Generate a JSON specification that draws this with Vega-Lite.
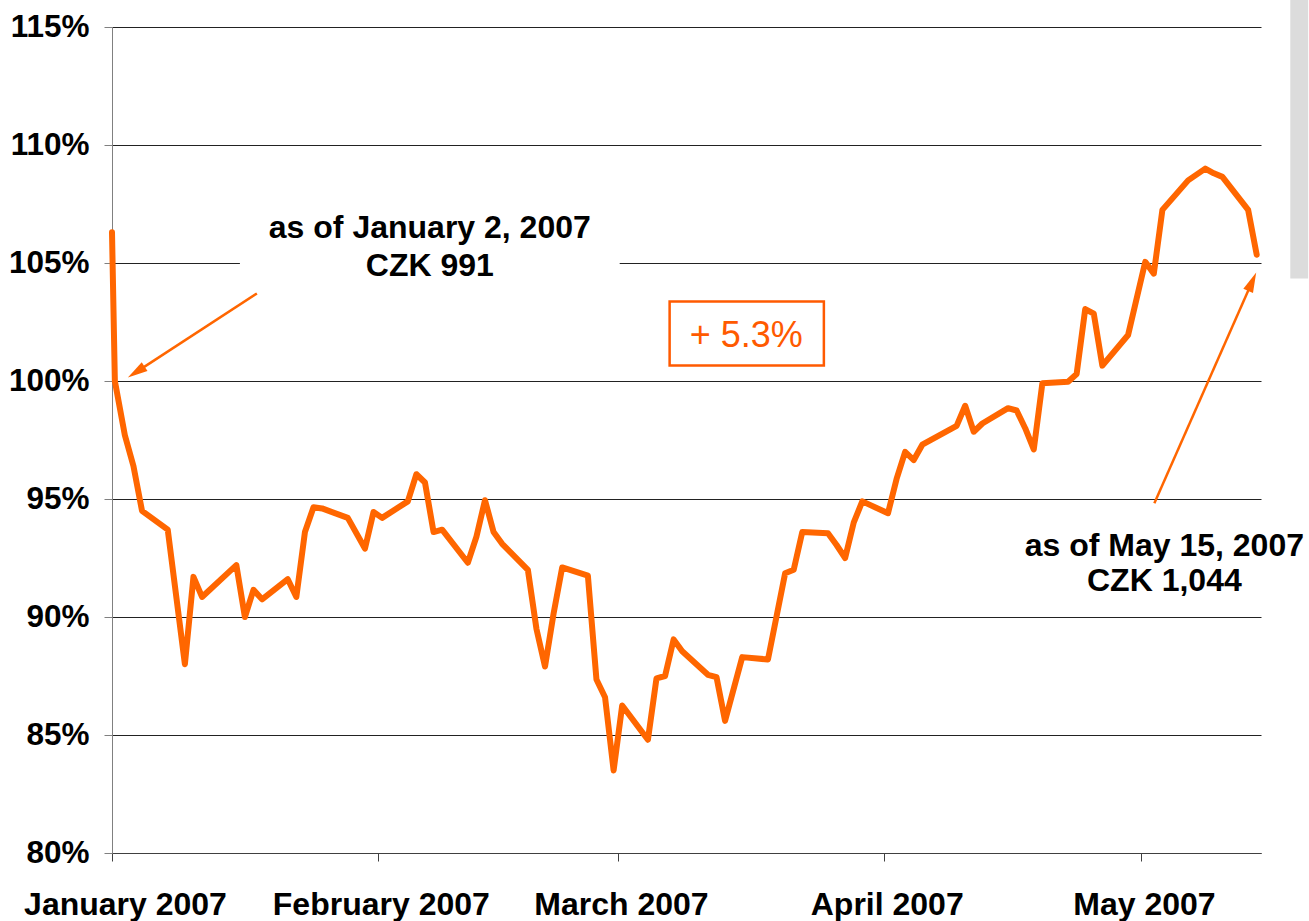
{
  "$schema": "https://vega.github.io/schema/vega-lite/v6.json",
  "width": 1149,
  "height": 826,
  "autosize": {"type": "none"},
  "padding": {"left": 112, "top": 27, "right": 48, "bottom": 68},
  "background": "white",
  "config": {"font": "Liberation Sans", "view": {"stroke": null}},
  "datasets": {
    "series": [
      {"date": "2007-01-01T00:00:00Z", "value": 106.3},
      {"date": "2007-01-01T08:00:00Z", "value": 100.0},
      {"date": "2007-01-02T12:00:00Z", "value": 97.7},
      {"date": "2007-01-03T12:00:00Z", "value": 96.4},
      {"date": "2007-01-04T12:00:00Z", "value": 94.5},
      {"date": "2007-01-07T12:00:00Z", "value": 93.7},
      {"date": "2007-01-09T12:00:00Z", "value": 88.0},
      {"date": "2007-01-10T12:00:00Z", "value": 91.7},
      {"date": "2007-01-11T12:00:00Z", "value": 90.85},
      {"date": "2007-01-15T12:00:00Z", "value": 92.2},
      {"date": "2007-01-16T12:00:00Z", "value": 90.0},
      {"date": "2007-01-17T12:00:00Z", "value": 91.15},
      {"date": "2007-01-18T12:00:00Z", "value": 90.75},
      {"date": "2007-01-21T12:00:00Z", "value": 91.6},
      {"date": "2007-01-22T12:00:00Z", "value": 90.85},
      {"date": "2007-01-23T12:00:00Z", "value": 93.6},
      {"date": "2007-01-24T12:00:00Z", "value": 94.65},
      {"date": "2007-01-25T12:00:00Z", "value": 94.6},
      {"date": "2007-01-28T12:00:00Z", "value": 94.2},
      {"date": "2007-01-30T12:00:00Z", "value": 92.9},
      {"date": "2007-01-31T12:00:00Z", "value": 94.45},
      {"date": "2007-02-01T12:00:00Z", "value": 94.2},
      {"date": "2007-02-04T12:00:00Z", "value": 94.9},
      {"date": "2007-02-05T12:00:00Z", "value": 96.05},
      {"date": "2007-02-06T12:00:00Z", "value": 95.7},
      {"date": "2007-02-07T12:00:00Z", "value": 93.6},
      {"date": "2007-02-08T12:00:00Z", "value": 93.7},
      {"date": "2007-02-11T12:00:00Z", "value": 92.3},
      {"date": "2007-02-12T12:00:00Z", "value": 93.4},
      {"date": "2007-02-13T12:00:00Z", "value": 94.95},
      {"date": "2007-02-14T12:00:00Z", "value": 93.6},
      {"date": "2007-02-15T12:00:00Z", "value": 93.1},
      {"date": "2007-02-18T12:00:00Z", "value": 92.0},
      {"date": "2007-02-19T12:00:00Z", "value": 89.5},
      {"date": "2007-02-20T12:00:00Z", "value": 87.9},
      {"date": "2007-02-21T12:00:00Z", "value": 90.15},
      {"date": "2007-02-22T12:00:00Z", "value": 92.1},
      {"date": "2007-02-25T12:00:00Z", "value": 91.75},
      {"date": "2007-02-26T12:00:00Z", "value": 87.35},
      {"date": "2007-02-27T12:00:00Z", "value": 86.6},
      {"date": "2007-02-28T12:00:00Z", "value": 83.5},
      {"date": "2007-03-01T12:00:00Z", "value": 86.25},
      {"date": "2007-03-04T12:00:00Z", "value": 84.8},
      {"date": "2007-03-05T12:00:00Z", "value": 87.4},
      {"date": "2007-03-06T12:00:00Z", "value": 87.5},
      {"date": "2007-03-07T12:00:00Z", "value": 89.05},
      {"date": "2007-03-08T12:00:00Z", "value": 88.55},
      {"date": "2007-03-11T12:00:00Z", "value": 87.55},
      {"date": "2007-03-12T12:00:00Z", "value": 87.45},
      {"date": "2007-03-13T12:00:00Z", "value": 85.6},
      {"date": "2007-03-15T12:00:00Z", "value": 88.3},
      {"date": "2007-03-18T12:00:00Z", "value": 88.2},
      {"date": "2007-03-20T12:00:00Z", "value": 91.85},
      {"date": "2007-03-21T12:00:00Z", "value": 92.0},
      {"date": "2007-03-22T12:00:00Z", "value": 93.6},
      {"date": "2007-03-25T12:00:00Z", "value": 93.55},
      {"date": "2007-03-26T12:00:00Z", "value": 93.05},
      {"date": "2007-03-27T12:00:00Z", "value": 92.5},
      {"date": "2007-03-28T12:00:00Z", "value": 94.0},
      {"date": "2007-03-29T12:00:00Z", "value": 94.9},
      {"date": "2007-04-01T12:00:00Z", "value": 94.4},
      {"date": "2007-04-02T12:00:00Z", "value": 95.85},
      {"date": "2007-04-03T12:00:00Z", "value": 97.0},
      {"date": "2007-04-04T12:00:00Z", "value": 96.65},
      {"date": "2007-04-05T12:00:00Z", "value": 97.3},
      {"date": "2007-04-09T12:00:00Z", "value": 98.1},
      {"date": "2007-04-10T12:00:00Z", "value": 98.95},
      {"date": "2007-04-11T12:00:00Z", "value": 97.85},
      {"date": "2007-04-12T12:00:00Z", "value": 98.2},
      {"date": "2007-04-15T12:00:00Z", "value": 98.85},
      {"date": "2007-04-16T12:00:00Z", "value": 98.75},
      {"date": "2007-04-17T12:00:00Z", "value": 98.0},
      {"date": "2007-04-18T12:00:00Z", "value": 97.1},
      {"date": "2007-04-19T12:00:00Z", "value": 99.9},
      {"date": "2007-04-22T12:00:00Z", "value": 99.97},
      {"date": "2007-04-23T12:00:00Z", "value": 100.3},
      {"date": "2007-04-24T12:00:00Z", "value": 103.05},
      {"date": "2007-04-25T12:00:00Z", "value": 102.85},
      {"date": "2007-04-26T12:00:00Z", "value": 100.65},
      {"date": "2007-04-29T12:00:00Z", "value": 101.95},
      {"date": "2007-05-01T12:00:00Z", "value": 105.05},
      {"date": "2007-05-02T12:00:00Z", "value": 104.55},
      {"date": "2007-05-03T12:00:00Z", "value": 107.25},
      {"date": "2007-05-06T12:00:00Z", "value": 108.5},
      {"date": "2007-05-08T12:00:00Z", "value": 109.0},
      {"date": "2007-05-09T12:00:00Z", "value": 108.8},
      {"date": "2007-05-10T12:00:00Z", "value": 108.65},
      {"date": "2007-05-13T12:00:00Z", "value": 107.25},
      {"date": "2007-05-14T12:00:00Z", "value": 105.35}
    ],
    "labelBackground": [
      {"date": "2007-01-15T22:00:00Z", "date2": "2007-03-01T05:00:00Z", "value": 104.0, "value2": 107.5}
    ],
    "sideBlock": [
      {"date": "2007-05-18T10:00:00Z", "date2": "2007-05-20T12:00:00Z", "value": 104.34, "value2": 116.3}
    ],
    "changeBox": [
      {"date": "2007-03-07T00:45:00Z", "date2": "2007-03-25T00:30:00Z", "value": 100.66, "value2": 103.37}
    ],
    "changeText": [
      {"date": "2007-03-15T23:20:00Z", "value": 101.42, "label": "+ 5.3%"}
    ],
    "notes": [
      {"date": "2007-02-07T01:30:00Z", "value": 106.07, "label": "as of January 2, 2007"},
      {"date": "2007-02-07T01:30:00Z", "value": 104.44, "label": "CZK 991"},
      {"date": "2007-05-03T17:30:00Z", "value": 92.58, "label": "as of May 15, 2007"},
      {"date": "2007-05-03T17:30:00Z", "value": 91.1, "label": "CZK 1,044"}
    ],
    "arrows": [
      {"arrow": "start", "date": "2007-01-17T21:36:00Z", "value": 103.71, "date2": "2007-01-04T00:00:00Z", "value2": 100.42},
      {"arrow": "end", "date": "2007-05-02T13:30:00Z", "value": 94.82, "date2": "2007-05-13T21:20:00Z", "value2": 104.14}
    ]
  },
  "layer": [
    {
      "data": {"name": "series"},
      "mark": {"type": "line", "color": "#FF6600", "strokeWidth": 6, "strokeJoin": "round", "strokeCap": "round"},
      "encoding": {
        "x": {
          "field": "date",
          "type": "temporal",
          "scale": {
            "type": "utc",
            "domain": [
              {"year": 2007, "month": 1, "date": 1, "utc": true},
              {"year": 2007, "month": 5, "date": 15, "utc": true}
            ]
          },
          "axis": {
            "title": null,
            "grid": false,
            "values": [
              {"year": 2007, "month": 1, "date": 1, "utc": true},
              {"year": 2007, "month": 2, "date": 1, "utc": true},
              {"year": 2007, "month": 3, "date": 1, "utc": true},
              {"year": 2007, "month": 4, "date": 1, "utc": true},
              {"year": 2007, "month": 5, "date": 1, "utc": true}
            ],
            "labelExpr": "utcFormat(datum.value, '%B %Y')",
            "labelFont": "Liberation Sans",
            "labelFontSize": 32,
            "labelFontWeight": "bold",
            "labelColor": "black",
            "labelPadding": 28,
            "labelOverlap": false,
            "labelBound": false,
            "labelFlush": false,
            "labelLimit": 0,
            "labelOffset": {"expr": "datum.index === 0 ? 13 : 3"},
            "tickSize": 8,
            "tickColor": "#404040",
            "domainColor": "#404040",
            "domainWidth": 1
          }
        },
        "y": {
          "field": "value",
          "type": "quantitative",
          "scale": {"domain": [80, 115], "nice": false, "zero": false},
          "axis": {
            "title": null,
            "values": [80, 85, 90, 95, 100, 105, 110, 115],
            "labelExpr": "datum.value + '%'",
            "labelFont": "Liberation Sans",
            "labelFontSize": 31.5,
            "labelFontWeight": "bold",
            "labelColor": "black",
            "labelPadding": 15,
            "labelLimit": 0,
            "tickSize": 8,
            "tickColor": "#808080",
            "domainColor": "#808080",
            "grid": true,
            "gridColor": "#222222",
            "gridWidth": 1
          }
        }
      }
    },
    {
      "data": {"name": "labelBackground"},
      "mark": {"type": "rect", "fill": "white", "stroke": null},
      "encoding": {
        "x": {"field": "date", "type": "temporal"},
        "x2": {"field": "date2"},
        "y": {"field": "value", "type": "quantitative"},
        "y2": {"field": "value2"}
      }
    },
    {
      "data": {"name": "sideBlock"},
      "mark": {"type": "rect", "fill": "#dcdcdc", "stroke": null, "clip": false},
      "encoding": {
        "x": {"field": "date", "type": "temporal"},
        "x2": {"field": "date2"},
        "y": {"field": "value", "type": "quantitative"},
        "y2": {"field": "value2"}
      }
    },
    {
      "data": {"name": "arrows"},
      "mark": {"type": "rule", "color": "#FF6600", "strokeWidth": 2.5},
      "encoding": {
        "x": {"field": "date", "type": "temporal"},
        "x2": {"field": "date2"},
        "y": {"field": "value", "type": "quantitative"},
        "y2": {"field": "value2"}
      }
    },
    {
      "data": {"name": "arrows"},
      "transform": [{"filter": "datum.arrow === 'start'"}],
      "mark": {"type": "point", "shape": "M0,-1L0.45,0.7L-0.45,0.7Z", "size": 550, "filled": true, "color": "#FF6600", "opacity": 1, "angle": 236.9},
      "encoding": {
        "x": {"field": "date2", "type": "temporal"},
        "y": {"field": "value2", "type": "quantitative"}
      }
    },
    {
      "data": {"name": "arrows"},
      "transform": [{"filter": "datum.arrow === 'end'"}],
      "mark": {"type": "point", "shape": "M0,-1L0.45,0.7L-0.45,0.7Z", "size": 550, "filled": true, "color": "#FF6600", "opacity": 1, "angle": 23.8},
      "encoding": {
        "x": {"field": "date2", "type": "temporal"},
        "y": {"field": "value2", "type": "quantitative"}
      }
    },
    {
      "data": {"name": "changeBox"},
      "mark": {"type": "rect", "fill": "white", "stroke": "#FF5A00", "strokeWidth": 2.5},
      "encoding": {
        "x": {"field": "date", "type": "temporal"},
        "x2": {"field": "date2"},
        "y": {"field": "value", "type": "quantitative"},
        "y2": {"field": "value2"}
      }
    },
    {
      "data": {"name": "changeText"},
      "mark": {"type": "text", "font": "Liberation Sans", "fontSize": 36, "color": "#FF5A00", "align": "center", "baseline": "alphabetic"},
      "encoding": {
        "x": {"field": "date", "type": "temporal"},
        "y": {"field": "value", "type": "quantitative"},
        "text": {"field": "label"}
      }
    },
    {
      "data": {"name": "notes"},
      "mark": {"type": "text", "font": "Liberation Sans", "fontSize": 32, "fontWeight": "bold", "color": "black", "align": "center", "baseline": "alphabetic", "clip": false},
      "encoding": {
        "x": {"field": "date", "type": "temporal"},
        "y": {"field": "value", "type": "quantitative"},
        "text": {"field": "label"}
      }
    }
  ]
}
